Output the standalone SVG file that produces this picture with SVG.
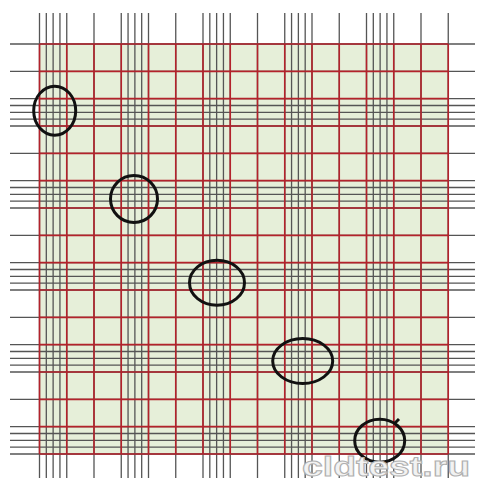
<svg xmlns="http://www.w3.org/2000/svg" width="478" height="483" viewBox="0 0 478 483">
<style>
.g{stroke:#555;stroke-width:1.3;fill:none}
.r{stroke:#b3222b;stroke-width:1.6;fill:none}
.o{stroke:#111;stroke-width:3;fill:none}
.wm{font-family:"Liberation Sans",Arial,sans-serif;font-weight:bold;font-size:28px;fill:#f2f2f2;stroke:#b0b0b0;stroke-width:1}
</style>
<rect width="478" height="483" fill="#ffffff"/>
<rect id="field" x="39.5" y="44" width="408.75" height="410" fill="#e6efd9"/>
<g id="connectors">
<g id="gray-vertical" class="g">
<path d="M39.5 13V478M46.31 13V478M53.13 13V478M59.94 13V478M66.75 13V478M94 13V478M121.25 13V478M128.06 13V478M134.88 13V478M141.69 13V478M148.5 13V478M175.75 13V478M203 13V478M209.81 13V478M216.63 13V478M223.44 13V478M230.25 13V478M257.5 13V478M284.75 13V478M291.56 13V478M298.38 13V478M305.19 13V478M312 13V478M339.25 13V478M366.5 13V478M373.31 13V478M380.13 13V478M386.94 13V478M393.75 13V478M421 13V478M448.25 13V478"/>
</g>
<g id="gray-horizontal" class="g">
<path d="M10 44H475M10 71.33H475M10 98.67H475M10 105.5H475M10 112.33H475M10 119.17H475M10 126H475M10 153.33H475M10 180.67H475M10 187.5H475M10 194.33H475M10 201.17H475M10 208H475M10 235.33H475M10 262.67H475M10 269.5H475M10 276.33H475M10 283.17H475M10 290H475M10 317.33H475M10 344.67H475M10 351.5H475M10 358.33H475M10 365.17H475M10 372H475M10 399.33H475M10 426.67H475M10 433.5H475M10 440.33H475M10 447.17H475M10 454H475"/>
</g>
<g id="red-grid" class="r">
<path d="M39.5 44V454M66.75 44V454M94 44V454M121.25 44V454M148.5 44V454M175.75 44V454M203 44V454M230.25 44V454M257.5 44V454M284.75 44V454M312 44V454M339.25 44V454M366.5 44V454M393.75 44V454M421 44V454M448.25 44V454"/>
<path d="M39.5 44H448.25M39.5 71.33H448.25M39.5 98.67H448.25M39.5 126H448.25M39.5 153.33H448.25M39.5 180.67H448.25M39.5 208H448.25M39.5 235.33H448.25M39.5 262.67H448.25M39.5 290H448.25M39.5 317.33H448.25M39.5 344.67H448.25M39.5 372H448.25M39.5 399.33H448.25M39.5 426.67H448.25M39.5 454H448.25"/>
</g>
</g>
<g id="ring1"><ellipse class="o" cx="54.7" cy="110.7" rx="21" ry="24.5"/></g>
<g id="ring2"><ellipse class="o" cx="134" cy="199" rx="23.5" ry="23.5"/></g>
<g id="ring3"><ellipse class="o" cx="217" cy="282.7" rx="27.5" ry="22.5"/></g>
<g id="ring4"><ellipse class="o" cx="302.7" cy="361" rx="30" ry="22.5"/></g>
<g id="ring5"><ellipse class="o" cx="379.7" cy="440.7" rx="25" ry="21.5"/><path class="o" d="M395 423L399 419" stroke-width="2.5"/></g>
<text class="wm" x="302" y="476" textLength="168" lengthAdjust="spacingAndGlyphs">cldtest.ru</text>
</svg>
